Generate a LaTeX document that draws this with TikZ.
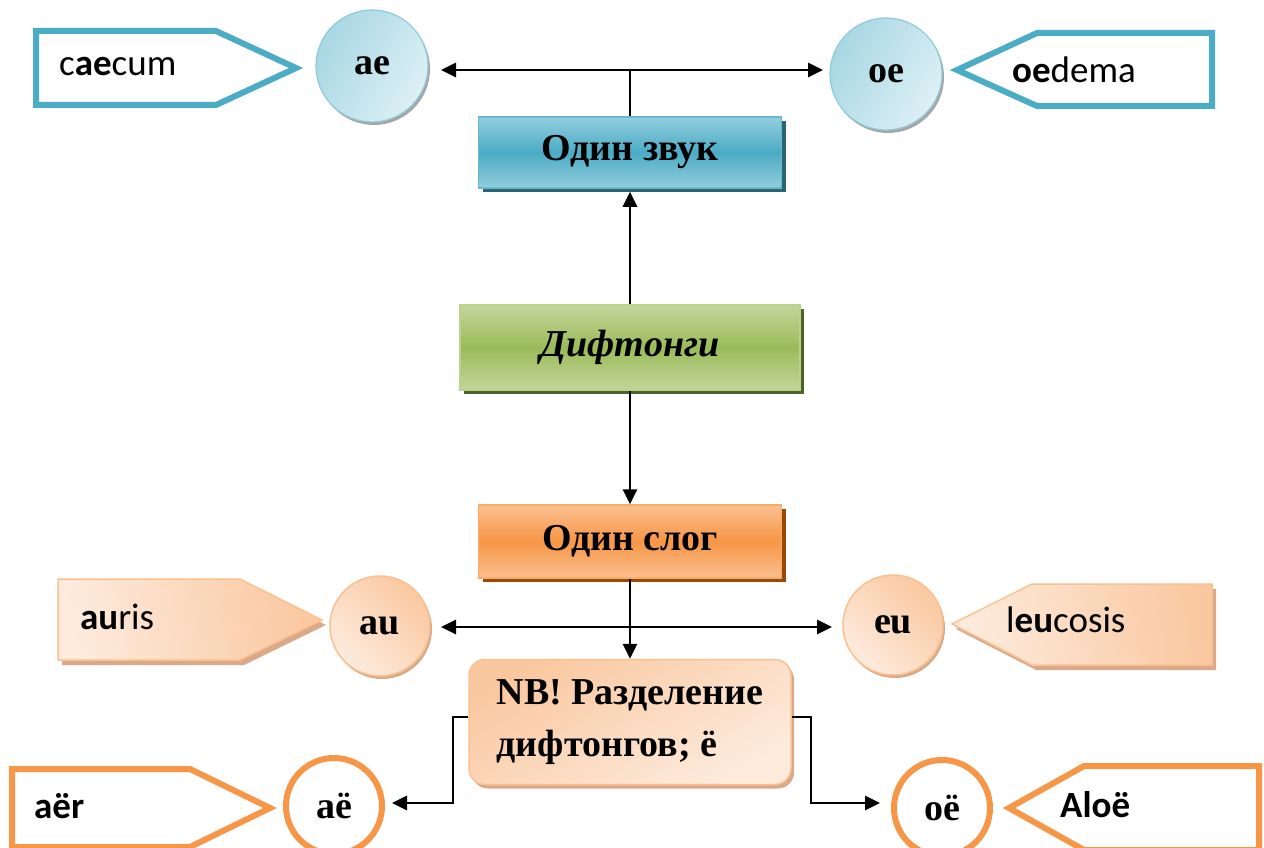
\documentclass[tikz,border=0pt]{standalone}
\usepackage{fontspec}
\setmainfont{Liberation Serif}
\newfontfamily\calfont{Carlito}
\usetikzlibrary{arrows.meta,shadows,calc}
\definecolor{blu}{HTML}{4BACC6}
\definecolor{bluL}{HTML}{93CDDD}
\definecolor{bluD}{HTML}{2B6474}
\definecolor{grn}{HTML}{9BBB59}
\definecolor{grnL}{HTML}{C3D69B}
\definecolor{grnD}{HTML}{4F6228}
\definecolor{ora}{HTML}{F79646}
\definecolor{oraL}{HTML}{FAC090}
\definecolor{oraD}{HTML}{984807}
\definecolor{pch}{HTML}{FAC8A0}
\definecolor{pchL}{HTML}{FDEBDD}
\definecolor{pchB}{HTML}{FAC090}
\definecolor{pchS}{HTML}{D9A98A}
\definecolor{cbL}{HTML}{DDF0F5}
\definecolor{cbD}{HTML}{A8D7E4}
\definecolor{cbB}{HTML}{8FCBDA}
\begin{document}
\begin{tikzpicture}[x=1pt,y=-1pt,
  conn/.style={line width=2.8pt,black},
  arr/.style={conn,-{Triangle[length=15pt,width=14pt]}},
  sertxt/.style={font=\fontsize{38}{52}\selectfont\bfseries},
  santxt/.style={font=\calfont\fontsize{37}{44}\selectfont,anchor=west,inner sep=0pt},
  boxbase/.style={rectangle,inner sep=0pt,sertxt,line width=1.5pt},
  bluebox/.style={boxbase,draw=blu!85!white,top color=bluL,bottom color=bluL,middle color=blu,
    drop shadow={shadow xshift=4pt,shadow yshift=-4pt,fill=bluD,opacity=1}},
  greenbox/.style={boxbase,draw=grnL!80!grn,top color=grnL,bottom color=grnL,middle color=grn,
    drop shadow={shadow xshift=4pt,shadow yshift=-4pt,fill=grnD,opacity=1}},
  orangebox/.style={boxbase,draw=ora!80!white,top color=oraL,bottom color=oraL,middle color=ora,
    drop shadow={shadow xshift=4pt,shadow yshift=-4pt,fill=oraD,opacity=1}},
  bluecirc/.style={circle,inner sep=0pt,minimum size=112pt,sertxt,draw=cbB,line width=1.2pt,
    shading=axis,left color=cbD,right color=cbL,shading angle=60,
    drop shadow={shadow xshift=2pt,shadow yshift=-3pt,fill=gray!70,opacity=1}},
  pchcirc/.style={circle,inner sep=0pt,minimum size=100pt,sertxt,draw=pchB,line width=1.5pt,
    shading=axis,left color=pchL,right color=pch,shading angle=135,
    drop shadow={shadow xshift=2pt,shadow yshift=-3pt,fill=pchS,opacity=1}},
  oracirc/.style={circle,inner sep=0pt,minimum size=96pt,sertxt,draw=ora,line width=6pt,fill=white},
  bluearrowshape/.style={draw=blu,line width=6pt,fill=white,miter limit=10},
  oraarrowshape/.style={draw=ora,line width=6pt,fill=white,miter limit=10},
  pcharrowshape/.style={draw=pchB,line width=1.5pt,shading=axis,left color=pchL,right color=pch,shading angle=100,
    drop shadow={shadow xshift=4pt,shadow yshift=-5pt,fill=pchS,opacity=1}}
]
\useasboundingbox (0,0) rectangle (1264,848);

% pentagon labels (shapes)
\path[bluearrowshape] (36,31) -- (216,31) -- (296,68) -- (216,105) -- (36,105) -- cycle;
\path[bluearrowshape] (1212,33) -- (1037,33) -- (957,70) -- (1037,106) -- (1212,106) -- cycle;
\path[pcharrowshape] (58,579) -- (240,579) -- (322,620) -- (240,660) -- (58,660) -- cycle;
\path[pcharrowshape] (1212,584) -- (1032,584) -- (952,624) -- (1032,665) -- (1212,665) -- cycle;
\path[oraarrowshape] (12,769) -- (190,769) -- (270,808) -- (190,847) -- (12,847) -- cycle;
\path[oraarrowshape] (1259,766) -- (1084,766) -- (1009,808) -- (1084,850) -- (1259,850) -- cycle;

\node[santxt] (tcaecum) at (59,66) {c\textbf{ae}cum};
\node[santxt] (toedema) at (1012,70) {\textbf{oe}dema};
\node[santxt] (tauris) at (80,617) {\textbf{au}ris};
\node[santxt] (tleucosis) at (1006,620) {l\textbf{eu}cosis};
\node[santxt] (taer) at (34,806) {\textbf{aër}};
\node[santxt] (taloe) at (1060,805) {\textbf{Aloë}};

% boxes
\node[bluebox,minimum width=303pt,minimum height=71pt] (zvuk) at (630,152.5) {Один звук};
\node[greenbox,minimum width=340pt,minimum height=85pt] (dift) at (630,347.5) {\itshape Дифтонги};
\node[orangebox,minimum width=303pt,minimum height=73pt] (slog) at (630,541.5) {Один слог};
\node[rectangle,rounded corners=16pt,inner sep=0pt,minimum width=322pt,minimum height=125pt,
  sertxt,align=left,draw=pchB,line width=1.5pt,shading=axis,left color=pchL,right color=pch,shading angle=210,
  drop shadow={shadow xshift=3pt,shadow yshift=-4pt,fill=pchS,opacity=1}] (nb) at (630,722)
  {NB! Разделение\\дифтонгов; ё};

% circles
\node[bluecirc] (ae) at (372,66) {ae};
\node[bluecirc] (oe) at (886,74) {oe};
\node[pchcirc] (au) at (380,626) {au};
\node[pchcirc] (eu) at (893,625) {eu};
\node[oracirc] (aee) at (334,806) {aë};
\node[oracirc] (oee) at (942,808) {oë};

% connectors
\coordinate (j1) at (630,70);
\coordinate (ael) at (441,70);
\coordinate (oer) at (823,70);
\draw[conn] (zvuk.north) -- (j1);
\draw[arr] (j1) -- (ael);
\draw[arr] (j1) -- (oer);
\draw[arr] (dift.north) -- ([yshift=-3pt]zvuk.south);
\draw[arr] (dift.south) -- (slog.north);
\coordinate (j2) at (630,627);
\coordinate (aul) at (441,627);
\coordinate (eur) at (832,627);
\draw[arr] (slog.south) -- (nb.north);
\draw[arr] (j2) -- (aul);
\draw[arr] (j2) -- (eur);
\coordinate (nbl) at (453,717);
\coordinate (nbr) at (811,717);
\coordinate (aeel) at (392,803);
\coordinate (oeer) at (880,803);
\draw[arr] (nb.west |- nbl) -- (nbl) |- (aeel);
\draw[arr] (nb.east |- nbr) -- (nbr) |- (oeer);
\end{tikzpicture}
\end{document}
